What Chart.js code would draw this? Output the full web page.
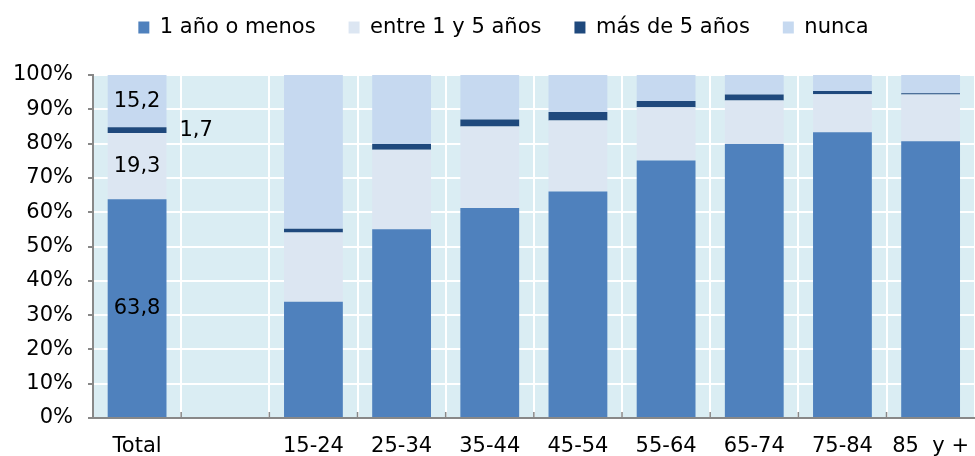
<!DOCTYPE html>
<html>
<head>
<meta charset="utf-8">
<script src="https://cdn.jsdelivr.net/npm/chart.js@4/dist/chart.umd.min.js"></script>
<style>
  html, body { margin: 0; padding: 0; background: #fff; overflow: hidden; }
  #wrap { width: 979px; height: 456px; }
</style>
</head>
<body>
<div id="wrap"><canvas id="grafico"></canvas></div>
<script>
// Datos
const categorias = ['Total', '', '15-24', '25-34', '35-44', '45-54', '55-64', '65-74', '75-84', '85  y +'];
const unAnoOMenos = [63.8, null, 33.9, 55.0, 61.2, 66.0, 75.1, 79.9, 83.3, 80.7];
const entre1y5 = [19.3, null, 20.2, 23.2, 23.8, 20.7, 15.5, 12.7, 11.1, 13.6];
const masDe5 = [1.7, null, 1.1, 1.7, 2.0, 2.5, 1.8, 1.7, 0.9, 0.4];
const nunca = [15.2, null, 44.8, 20.1, 13.0, 10.8, 7.6, 5.7, 4.7, 5.3];
const ticksY = [0, 10, 20, 30, 40, 50, 60, 70, 80, 90, 100];

const fuente = 'DejaVu Sans';

// fondo del área del gráfico
const fondoPlugin = {
    id: 'fondo',
    beforeDraw(chart) {
        const { ctx, chartArea: a } = chart;
        ctx.save();
        ctx.fillStyle = '#DAEDF3';
        ctx.fillRect(a.left, a.top, a.right - a.left, a.bottom - a.top);
        ctx.restore();
    }
};

// marcas grises del eje x, hacia adentro
const marcasPlugin = {
    id: 'marcasX',
    afterDraw(chart) {
        const x = chart.scales.x;
        const n = chart.data.labels.length;
        const ctx = chart.ctx;
        ctx.save();
        ctx.strokeStyle = '#888';
        ctx.lineWidth = 1.5;
        ctx.beginPath();
        for (let i = 1; i < n; i++) {
            const px = (x.getPixelForTick(i - 1) + x.getPixelForTick(i)) / 2;
            ctx.moveTo(px, x.top - 6);
            ctx.lineTo(px, x.top);
        }
        ctx.stroke();
        ctx.restore();
    }
};

// más espacio bajo la leyenda; la leyenda más arriba y algo a la derecha
const leyendaPlugin = {
    id: 'espacioLeyenda',
    beforeInit(chart) {
        const fitOriginal = chart.legend.fit;
        chart.legend.fit = function () {
            fitOriginal.bind(chart.legend)();
            this.height += 11;
        };
    },
    afterLayout(chart) {
        const l = chart.legend;
        l.top -= 16;
        l.bottom -= 16;
        l.left += 14;
        l.right += 14;
    }
};

// etiquetas de la barra Total
const etiquetasPlugin = {
    id: 'etiquetas',
    afterDatasetsDraw(chart) {
        const ctx = chart.ctx;
        ctx.save();
        ctx.font = '21px "' + fuente + '"';
        ctx.fillStyle = '#000';
        ctx.textBaseline = 'middle';
        chart.data.datasets.forEach((ds, i) => {
            const bar = chart.getDatasetMeta(i).data[0];
            const v = ds.data[0];
            const texto = v.toFixed(1).replace('.', ',');
            const y = (bar.y + bar.base) / 2;
            if (i === 2) {
                ctx.textAlign = 'left';
                ctx.fillText(texto, bar.x + bar.width / 2 + 13, y);
            } else {
                ctx.textAlign = 'center';
                ctx.fillText(texto, bar.x, y);
            }
        });
        ctx.restore();
    }
};

const ctx = document.getElementById('grafico').getContext('2d');
const grafico = new Chart(ctx, {
    type: 'bar',
    data: {
        labels: categorias,
        datasets: [
            { label: '1 año o menos', data: unAnoOMenos, backgroundColor: '#4F81BD' },
            { label: 'entre 1 y 5 años', data: entre1y5, backgroundColor: '#DCE6F2' },
            { label: 'más de 5 años', data: masDe5, backgroundColor: '#1F497D' },
            { label: 'nunca', data: nunca, backgroundColor: '#C6D9F0' }
        ]
    },
    options: {
        responsive: true,
        maintainAspectRatio: false,
        animation: false,
        datasets: {
            bar: { categoryPercentage: 1, barPercentage: 0.667 }
        },
        layout: { padding: { top: 0, right: 0, left: 0, bottom: 0 } },
        plugins: {
            legend: {
                position: 'top',
                labels: {
                    boxWidth: 11,
                    boxHeight: 12,
                    padding: 33,
                    color: '#000',
                    font: { family: fuente, size: 21 }
                }
            },
            tooltip: { enabled: false }
        },
        scales: {
            x: {
                stacked: true,
                grid: { color: '#fff', lineWidth: 2, offset: true, tickColor: 'rgba(0,0,0,0)', tickLength: 6 },
                border: { display: true, color: '#888', width: 2 },
                ticks: {
                    color: '#000',
                    font: { family: fuente, size: 21 },
                    maxRotation: 0,
                    autoSkip: false,
                    padding: 10
                },
                afterFit(scale) { scale.height = 38; }
            },
            y: {
                stacked: true,
                min: 0,
                max: 100,
                afterBuildTicks(scale) { scale.ticks = ticksY.map(v => ({ value: v })); },
                grid: { color: '#fff', lineWidth: 2, tickColor: '#888', tickLength: 5 },
                border: { display: true, color: '#888', width: 2 },
                ticks: {
                    color: '#000',
                    font: { family: fuente, size: 21 },
                    padding: 15,
                    callback: v => v + '%'
                },
                afterFit(scale) { scale.width = 93; }
            }
        }
    },
    plugins: [fondoPlugin, leyendaPlugin, etiquetasPlugin, marcasPlugin]
});
</script>
</body>
</html>
